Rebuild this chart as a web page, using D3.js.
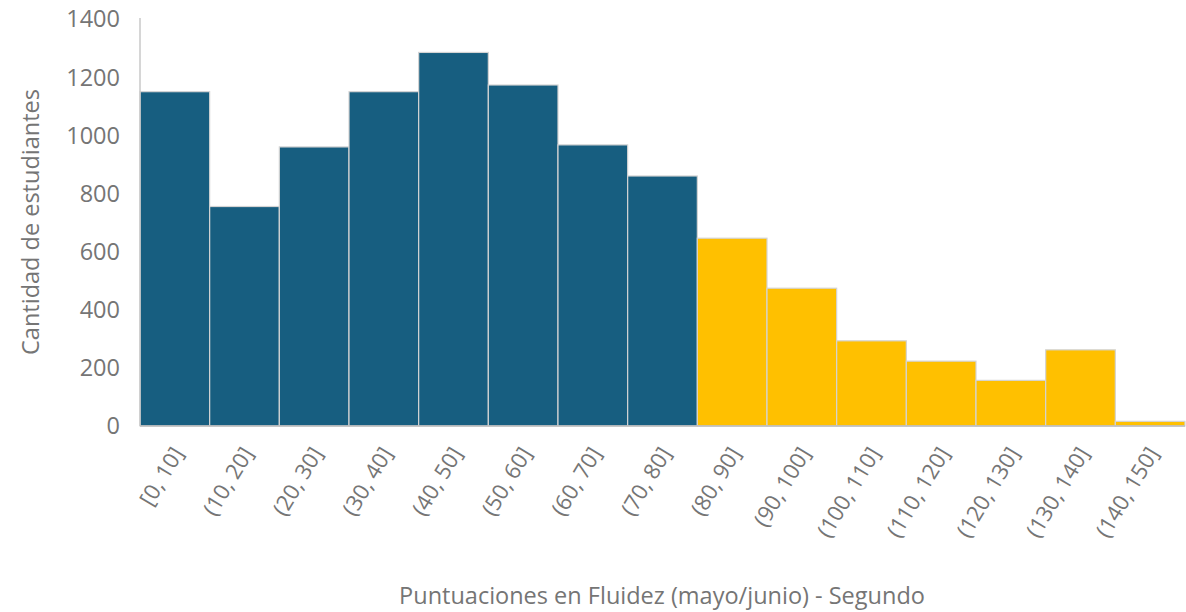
<!DOCTYPE html>
<html>
<head>
<meta charset="utf-8">
<script src="https://cdn.jsdelivr.net/npm/d3@7"></script>
<style>
  body { margin: 0; background: #fff; }
  text { font-family: "Open Sans", "Noto Sans", sans-serif; fill: #757575; }
</style>
</head>
<body>
<svg></svg>
<script>
// histogram data
const bins = ["[0, 10]", "(10, 20]", "(20, 30]", "(30, 40]", "(40, 50]", "(50, 60]", "(60, 70]", "(70, 80]",
  "(80, 90]", "(90, 100]", "(100, 110]", "(110, 120]", "(120, 130]", "(130, 140]", "(140, 150]"]
const counts = [1150, 755, 960, 1150, 1285, 1173, 967, 860, 646, 474, 293, 223, 157, 262, 16]
const yTicks = [0, 200, 400, 600, 800, 1000, 1200, 1400]
const cutoff = 8 // first 8 bins are blue, the rest yellow

const svg = d3.select("svg")
svg
  .attr("width", 1186)
  .attr("height", 612)

const plotLeft = 140, plotRight = 1185, plotTop = 19, plotBottom = 426

const scaleX = d3.scaleBand()
  .domain(bins)
  .range([plotLeft, plotRight])
  .padding(0)

const scaleY = d3.scaleLinear()
  .domain([0, 1400])
  .range([plotBottom, plotTop])

// bars
svg.selectAll("rect.bar")
  .data(counts)
  .enter()
  .append("rect")
  .attr("class", "bar")
  .attr("x", (d, i) => scaleX(bins[i]))
  .attr("y", d => scaleY(d))
  .attr("width", scaleX.bandwidth())
  .attr("height", d => plotBottom - scaleY(d))
  .attr("fill", (d, i) => i < cutoff ? "#175e80" : "#ffc000")
  .attr("stroke", "#d4d4d4")
  .attr("stroke-width", 1.2)

// axis lines
svg.append("line")
  .attr("x1", plotLeft).attr("x2", plotLeft)
  .attr("y1", 18).attr("y2", plotBottom)
  .attr("stroke", "#c8c8c8").attr("stroke-width", 1.5)
svg.append("line")
  .attr("x1", plotLeft).attr("x2", plotRight)
  .attr("y1", plotBottom).attr("y2", plotBottom)
  .attr("stroke", "#bcbcbc").attr("stroke-width", 1.5)

// y tick labels
svg.selectAll("text.ytick")
  .data(yTicks)
  .enter()
  .append("text")
  .attr("class", "ytick")
  .attr("x", 120)
  .attr("y", d => scaleY(d))
  .attr("dy", "0.36em")
  .attr("text-anchor", "end")
  .style("font-size", "23.5px")
  .text(d => d)

// x tick labels, rotated
svg.selectAll("text.xtick")
  .data(bins)
  .enter()
  .append("text")
  .attr("class", "xtick")
  .attr("text-anchor", "end")
  .attr("transform", d => {
    const x = scaleX(d) + scaleX.bandwidth() / 2 + 3
    return `translate(${x},449) rotate(-59)`
  })
  .attr("dy", "0.35em")
  .style("font-size", "22px")
  .text(d => d)

// axis titles
svg.append("text")
  .attr("transform", "translate(39,222) rotate(-90)")
  .attr("text-anchor", "middle")
  .style("font-size", "23.5px")
  .text("Cantidad de estudiantes")

svg.append("text")
  .attr("x", 662)
  .attr("y", 604)
  .attr("text-anchor", "middle")
  .style("font-size", "23.5px")
  .text("Puntuaciones en Fluidez (mayo/junio) - Segundo")
</script>
</body>
</html>
